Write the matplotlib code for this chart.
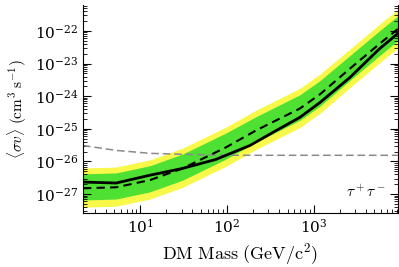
import matplotlib
matplotlib.use("Agg")
import matplotlib.pyplot as plt
import matplotlib.ticker as ticker
import numpy as np

plt.rcParams["mathtext.fontset"] = "cm"
plt.rcParams["font.family"] = "serif"
plt.rcParams["font.serif"] = ["DejaVu Serif"]

# values (log10 of <sigma v>)
obs_mass = [2.2, 5.3, 13, 30, 74, 184, 338, 690, 1170, 2600, 5700, 9300]
observed = [-26.63, -26.66, -26.42, -26.22, -25.94, -25.51, -25.11, -24.65, -24.20, -23.43, -22.55, -22.08]

exp_mass = [2.2, 5.3, 13, 31, 97, 216, 690, 1170, 2600, 5700, 9300]
expected = [-26.82, -26.79, -26.57, -26.21, -25.57, -25.05, -24.38, -23.95, -23.16, -22.40, -21.94]
band68_hi = [-26.38, -26.35, -26.13, -25.77, -25.13, -24.63, -23.96, -23.53, -22.76, -22.00, -21.54]
band68_lo = [-27.18, -27.15, -26.93, -26.57, -25.93, -25.41, -24.74, -24.31, -23.52, -22.76, -22.30]
band95_hi = [-26.20, -26.17, -25.95, -25.59, -24.95, -24.43, -23.76, -23.33, -22.56, -21.80, -21.34]
band95_lo = [-27.40, -27.37, -27.15, -26.79, -26.15, -25.63, -24.96, -24.53, -23.74, -22.98, -22.52]

relic_mass = [2.2, 5.3, 13, 31, 100, 1000, 9300]
relic = [-25.51, -25.66, -25.75, -25.78, -25.81, -25.81, -25.81]

def lin(v):
    return 10 ** np.array(v)

fig = plt.figure(figsize=(3.99, 2.67), dpi=100)
ax = fig.add_axes([0.208, 0.202, 0.789, 0.78])

ax.fill_between(exp_mass, lin(band95_lo), lin(band95_hi), color="#f8f84a", lw=0)
ax.fill_between(exp_mass, lin(band68_lo), lin(band68_hi), color="#4ee033", lw=0)
ax.plot(relic_mass, lin(relic), color="#8a8a8a", ls=(0, (5, 2.5)), lw=1.1)
ax.plot(exp_mass, lin(expected), color="black", ls=(0, (4, 2.5)), lw=1.5)
ax.plot(obs_mass, lin(observed), color="black", lw=2)

ax.set_xscale("log")
ax.set_yscale("log")
ax.set_xlim(2.2, 9300)
ax.set_ylim(10 ** -27.58, 10 ** -21.2)

ax.yaxis.set_major_locator(ticker.LogLocator(numticks=20))
ax.yaxis.set_minor_locator(ticker.LogLocator(subs=np.arange(2, 10), numticks=100))
ax.xaxis.set_minor_locator(ticker.LogLocator(subs=np.arange(2, 10), numticks=100))
ax.yaxis.set_minor_formatter(ticker.NullFormatter())
ax.xaxis.set_minor_formatter(ticker.NullFormatter())

ax.tick_params(which="both", direction="in", left=True, right=True, bottom=True, top=False, labelsize=11)
ax.tick_params(which="major", length=6)
ax.tick_params(which="minor", length=3)
ax.spines["top"].set_visible(False)

ax.set_xlabel(r"$\mathrm{DM\ Mass\ (GeV/c^2)}$", fontsize=13, labelpad=4)
ax.set_ylabel(r"$\langle\sigma v\rangle\ (\mathrm{cm^3\ s^{-1}})$", fontsize=11, labelpad=4)

ax.text(0.90, 0.10, r"$\tau^+\tau^-$", transform=ax.transAxes, fontsize=11, ha="center", va="center")

fig.savefig("out.png", dpi=100)
